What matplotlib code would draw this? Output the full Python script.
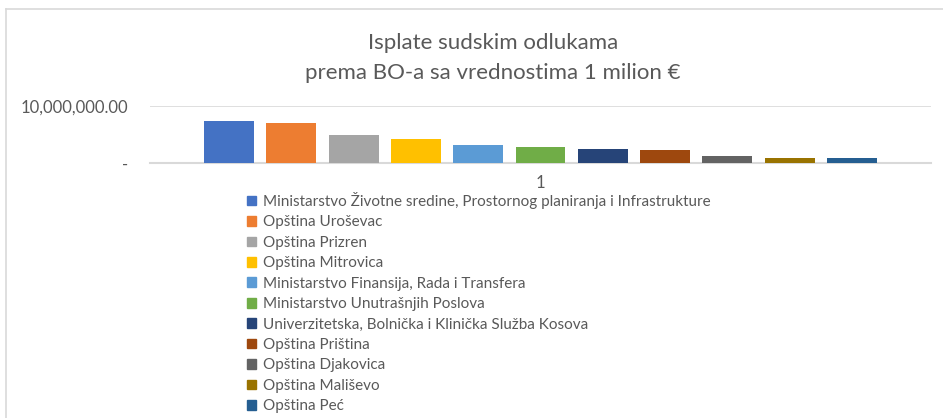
import numpy as np
import matplotlib.pyplot as plt
from matplotlib.patches import Rectangle
from matplotlib.lines import Line2D

plt.rcParams['font.family'] = ['Lato', 'DejaVu Sans']

institutions = [
    "Ministarstvo Životne sredine, Prostornog planiranja i Infrastrukture",
    "Opština Uroševac",
    "Opština Prizren",
    "Opština Mitrovica",
    "Ministarstvo Finansija, Rada i Transfera",
    "Ministarstvo Unutrašnjih Poslova",
    "Univerzitetska, Bolnička i Klinička Služba Kosova",
    "Opština Priština",
    "Opština Djakovica",
    "Opština Mališevo",
    "Opština Peć",
]
payments = [7420000, 7050000, 4960000, 4250000, 3200000, 2860000,
            2500000, 2330000, 1280000, 930000, 880000]
colors = ["#4472C4", "#ED7D31", "#A5A5A5", "#FFC000", "#5B9BD5", "#70AD47",
          "#264478", "#9E480E", "#636363", "#997300", "#255E91"]
ytick_vals = [0, 10000000]
ytick_labels = ["-", "10,000,000.00"]
category = "1"

W, H = 943, 418
fig = plt.figure(figsize=(W / 100, H / 100), dpi=100)
ax = fig.add_axes([150 / W, 1 - 163 / H, 781 / W, 57 / H])

x = np.arange(len(payments))
ax.bar(x, payments, width=0.8, color=colors, zorder=3)
ax.set_xlim(-1.27, len(payments) - 1 + 1.27)
ax.set_ylim(0, 10000000)

ax.set_yticks(ytick_vals)
ax.set_yticklabels(ytick_labels)
ax.set_xticks([(len(payments) - 1) / 2])
ax.set_xticklabels([category])
ax.tick_params(length=0, labelsize=12, labelcolor="#595959")
ax.tick_params(axis='y', pad=16)
ax.tick_params(axis='x', pad=9)
for s in ['top', 'right', 'left']:
    ax.spines[s].set_visible(False)
ax.spines['bottom'].set_color("#d9d9d9")
ax.spines['bottom'].set_linewidth(1.5)
ax.grid(axis='y', color="#d9d9d9", linewidth=1.2, zorder=0)

fig.text(493 / W, 1 - 43 / H, "Isplate sudskim odlukama", ha='center', va='center',
         fontsize=16, color="#595959")
fig.text(493 / W, 1 - 73 / H, "prema BO-a sa vrednostima 1 milion €", ha='center',
         va='center', fontsize=16, color="#595959")

handles = [Rectangle((0, 0), 1, 1, color=c) for c in colors]
fig.legend(handles, institutions, loc='upper left', bbox_to_anchor=(247 / W, 1 - 192 / H),
           frameon=False, fontsize=11, labelcolor="#595959", handlelength=0.6,
           handleheight=0.6, handletextpad=0.45, labelspacing=0.42, borderpad=0,
           borderaxespad=0)

# chart frame (top and left edges visible)
fig.add_artist(Line2D([6 / W, 1], [1 - 9 / H, 1 - 9 / H], color="#d9d9d9", linewidth=1.2))
fig.add_artist(Line2D([6 / W, 6 / W], [0, 1 - 9 / H], color="#d9d9d9", linewidth=1.2))

fig.savefig("out.png", dpi=100)
